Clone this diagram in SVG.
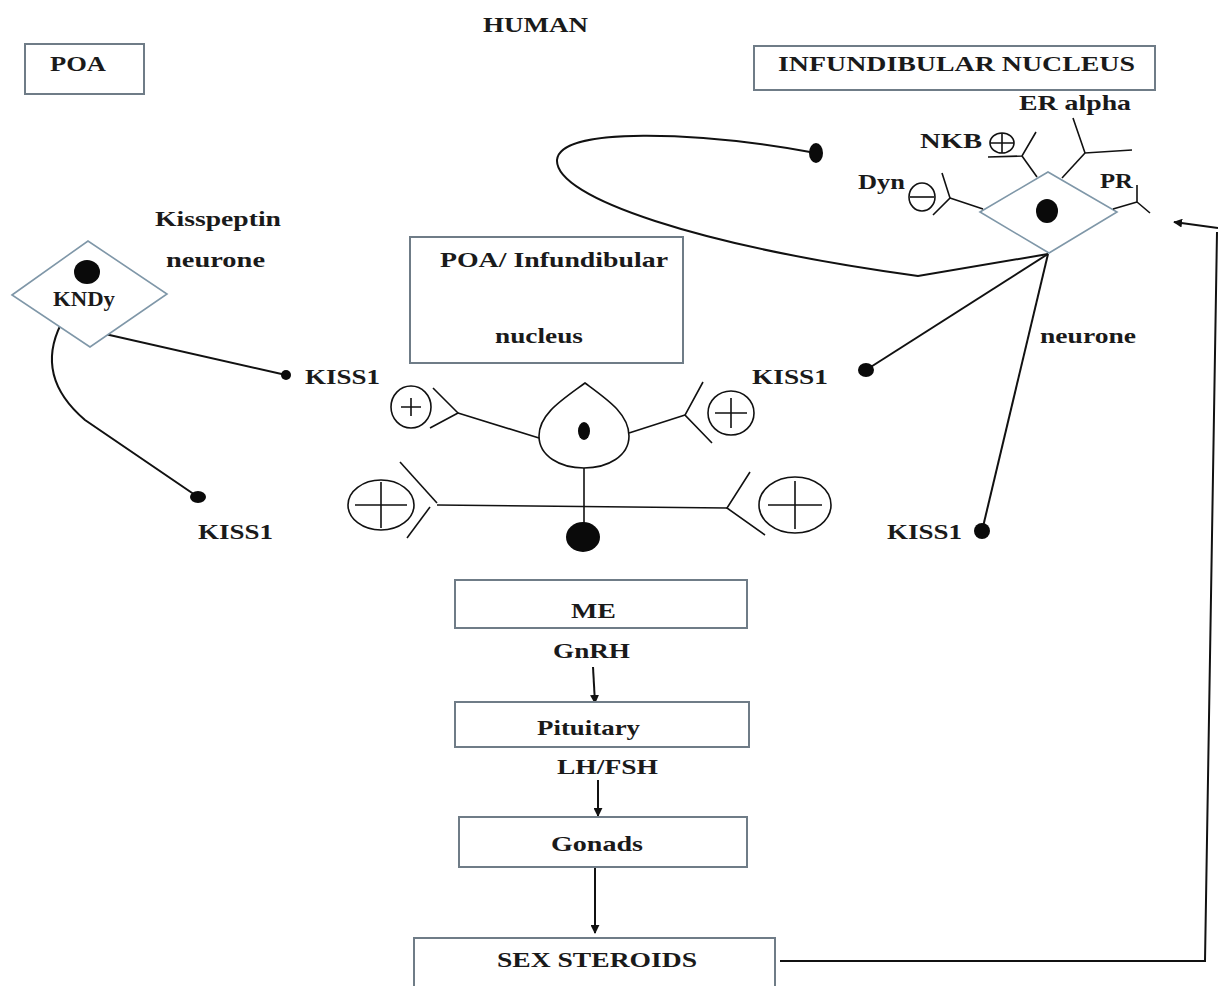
<svg xmlns="http://www.w3.org/2000/svg" width="1218" height="986" viewBox="0 0 1218 986">
<defs>
<marker id="ah" viewBox="0 0 10 10" refX="9" refY="5" markerWidth="9" markerHeight="9" orient="auto" markerUnits="userSpaceOnUse"><path d="M0,0 L10,5 L0,10 Z" fill="#111"/></marker>
<style>
text{font-family:"Liberation Serif","Times New Roman",serif;font-weight:bold;font-size:21px;fill:#1a1a1a}
.box{fill:#fff;stroke:#6f7c87;stroke-width:2}
.dia{fill:#fff;stroke:#7f97a8;stroke-width:1.6}
.ln{fill:none;stroke:#111;stroke-width:2}
.th{fill:none;stroke:#111;stroke-width:1.6}
.dot{fill:#0a0a0a}
.circ{fill:none;stroke:#111;stroke-width:1.6}
</style>
</defs>
<rect width="1218" height="986" fill="#fff"/>
<g id="connectors">
<path class="ln" d="M 810,152 C 700,132 560,126 557,160 C 555,198 700,246 918,276 L 1048,254"/>
<line class="ln" x1="1048" y1="254" x2="866" y2="370"/>
<line class="ln" x1="1048" y1="254" x2="982" y2="531"/>
<line class="ln" x1="61" y1="324" x2="286" y2="375"/>
<path class="ln" d="M 61,324 C 48,350 44,385 85,420 L 198,497"/>
<line class="ln" x1="593" y1="667" x2="595" y2="703" marker-end="url(#ah)"/>
<line class="ln" x1="598" y1="780" x2="598" y2="816" marker-end="url(#ah)"/>
<line class="ln" x1="595" y1="867" x2="595" y2="933" marker-end="url(#ah)"/>
<polyline class="ln" points="780,961 1205,961 1217,232"/>
<line class="ln" x1="1218" y1="228" x2="1174" y2="222" marker-end="url(#ah)"/>
</g>
<g id="title"><text x="483" y="32" textLength="105" lengthAdjust="spacingAndGlyphs">HUMAN</text></g>
<g id="poa"><rect class="box" x="25" y="44" width="119" height="50"/><text x="50" y="71" textLength="56" lengthAdjust="spacingAndGlyphs">POA</text></g>
<g id="infundibular-nucleus"><rect class="box" x="754" y="46" width="401" height="44"/><text x="778" y="71" textLength="357" lengthAdjust="spacingAndGlyphs">INFUNDIBULAR NUCLEUS</text></g>
<g id="kndy-neuron-right">
<polygon class="dia" points="980,212 1048,172 1117,212 1049,253"/>
<ellipse class="dot" cx="1047" cy="211" rx="11" ry="12"/>
<polyline class="th" points="1036,132 1022,156 988,157"/><line class="th" x1="1022" y1="156" x2="1037" y2="177"/>
<polyline class="th" points="1073,118 1085,153 1132,150"/><line class="th" x1="1085" y1="153" x2="1062" y2="178"/>
<polyline class="th" points="942,173 950,198 933,215"/><line class="th" x1="950" y1="198" x2="983" y2="209"/>
<polyline class="th" points="1137,185 1137,202 1150,213"/><line class="th" x1="1137" y1="202" x2="1113" y2="209"/>
<ellipse class="circ" cx="1002" cy="143" rx="12" ry="10"/><path class="th" d="M990,143 H1014 M1002,133 V153"/>
<ellipse class="circ" cx="922" cy="197" rx="13" ry="14"/><path class="th" d="M910,197 H934"/>
<ellipse class="dot" cx="816" cy="153" rx="7" ry="10"/>
<text x="1019" y="110" textLength="112" lengthAdjust="spacingAndGlyphs">ER alpha</text>
<text x="920" y="148" textLength="62" lengthAdjust="spacingAndGlyphs">NKB</text>
<text x="858" y="189" textLength="47" lengthAdjust="spacingAndGlyphs">Dyn</text>
<text x="1100" y="188" textLength="33" lengthAdjust="spacingAndGlyphs">PR</text>
<text x="1040" y="343" textLength="96" lengthAdjust="spacingAndGlyphs">neurone</text>
</g>
<g id="kiss1-right-mid"><ellipse class="dot" cx="866" cy="370" rx="8" ry="7"/><text x="752" y="384" textLength="76" lengthAdjust="spacingAndGlyphs">KISS1</text></g>
<g id="kiss1-right-bottom"><ellipse class="dot" cx="982" cy="531" rx="8" ry="8"/><text x="887" y="539" textLength="75" lengthAdjust="spacingAndGlyphs">KISS1</text></g>
<g id="kndy-left">
<polygon class="dia" points="12,295 88,241 167,294 90,347"/>
<ellipse class="dot" cx="87" cy="272" rx="13" ry="12"/>
<text x="53" y="306" textLength="62" lengthAdjust="spacingAndGlyphs">KNDy</text>
<text x="155" y="226" textLength="126" lengthAdjust="spacingAndGlyphs">Kisspeptin</text>
<text x="166" y="267" textLength="99" lengthAdjust="spacingAndGlyphs">neurone</text>
</g>
<g id="kiss1-left-mid"><ellipse class="dot" cx="286" cy="375" rx="5" ry="5"/><text x="305" y="384" textLength="75" lengthAdjust="spacingAndGlyphs">KISS1</text></g>
<g id="kiss1-left-bottom"><ellipse class="dot" cx="198" cy="497" rx="8" ry="6"/><text x="198" y="539" textLength="75" lengthAdjust="spacingAndGlyphs">KISS1</text></g>
<g id="poa-infundibular-box"><rect class="box" x="410" y="237" width="273" height="126"/>
<text x="440" y="267" textLength="228" lengthAdjust="spacingAndGlyphs">POA/ Infundibular</text>
<text x="495" y="343" textLength="88" lengthAdjust="spacingAndGlyphs">nucleus</text></g>
<g id="gnrh-neuron">
<path class="th" d="M 585,383 C 562,400 539,414 539,436 C 539,456 560,468 584,468 C 608,468 629,456 629,436 C 629,414 608,400 585,383 Z" fill="#fff"/>
<ellipse class="dot" cx="584" cy="431" rx="6" ry="9"/>
<line class="th" x1="539" y1="438" x2="458" y2="413"/>
<polyline class="th" points="433,388 458,413 430,428"/>
<ellipse class="circ" cx="411" cy="407" rx="20" ry="21"/><path class="th" d="M401,407 H421 M411,398 V416"/>
<line class="th" x1="629" y1="433" x2="685" y2="415"/>
<polyline class="th" points="703,382 685,415 712,443"/>
<ellipse class="circ" cx="731" cy="413" rx="23" ry="22"/><path class="th" d="M715,413 H747 M731,398 V428"/>
<line class="th" x1="584" y1="468" x2="584" y2="537"/>
<line class="th" x1="437" y1="505" x2="727" y2="508"/>
<polyline class="th" points="400,462 437,503"/><polyline class="th" points="430,507 407,538"/>
<ellipse class="circ" cx="381" cy="505" rx="33" ry="25"/><path class="th" d="M355,505 H407 M381,482 V528"/>
<polyline class="th" points="750,472 727,508 765,535"/>
<ellipse class="circ" cx="795" cy="505" rx="36" ry="28"/><path class="th" d="M768,505 H822 M795,481 V529"/>
<ellipse class="dot" cx="583" cy="537" rx="17" ry="15"/>
</g>
<g id="me"><rect class="box" x="455" y="580" width="292" height="48"/><text x="571" y="618" textLength="45" lengthAdjust="spacingAndGlyphs">ME</text></g>
<g id="gnrh-label"><text x="553" y="658" textLength="77" lengthAdjust="spacingAndGlyphs">GnRH</text></g>
<g id="pituitary"><rect class="box" x="455" y="702" width="294" height="45"/><text x="537" y="735" textLength="103" lengthAdjust="spacingAndGlyphs">Pituitary</text></g>
<g id="lhfsh-label"><text x="557" y="774" textLength="101" lengthAdjust="spacingAndGlyphs">LH/FSH</text></g>
<g id="gonads"><rect class="box" x="459" y="817" width="288" height="50"/><text x="551" y="851" textLength="92" lengthAdjust="spacingAndGlyphs">Gonads</text></g>
<g id="sex-steroids"><rect class="box" x="414" y="938" width="361" height="52"/><text x="497" y="967" textLength="200" lengthAdjust="spacingAndGlyphs">SEX STEROIDS</text></g>
</svg>
